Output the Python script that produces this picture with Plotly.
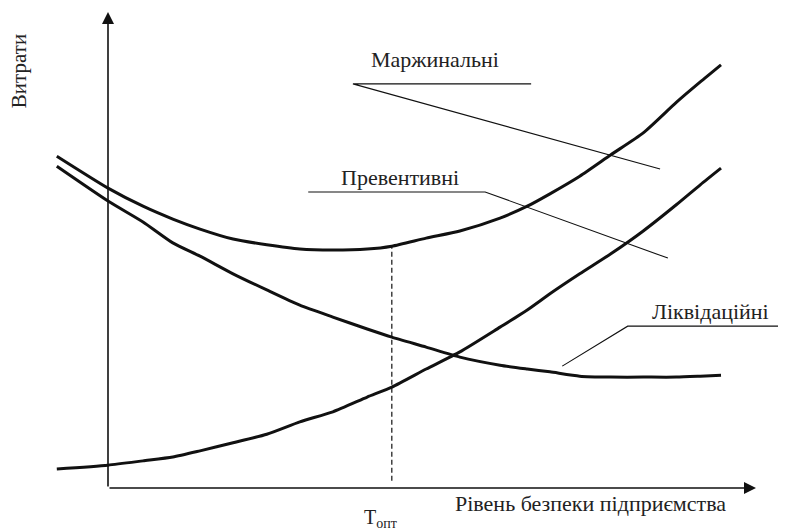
import plotly.graph_objects as go

# Security level (x) sample points, shared by all three curves
level = [-7.9, 0.0, 5.4, 10.0, 14.2, 19.3, 24.5, 29.6, 34.7, 40.0, 43.8, 49.1,
         54.3, 60.5, 64.7, 68.2, 72.8, 77.6, 82.6, 87.7, 91.4, 94.6]

# Total (marginal) costs – U-shaped curve
marginal = [69.7, 63.0, 59.2, 56.5, 54.4, 52.3, 51.1, 50.2, 50.0, 50.2, 50.8, 52.5,
            54.0, 56.7, 59.2, 61.8, 65.5, 70.0, 74.6, 81.0, 85.3, 88.9]
# Liquidation costs – decreasing curve
liquidation = [67.6, 60.3, 55.9, 51.5, 48.7, 45.0, 41.6, 38.4, 35.9, 33.4, 31.7, 29.6,
               27.5, 25.8, 25.0, 24.4, 23.5, 23.3, 23.3, 23.3, 23.5, 23.7]
# Preventive costs – increasing curve
preventive = [4.0, 4.8, 5.7, 6.5, 7.8, 9.5, 11.3, 13.9, 16.0, 19.1, 21.2, 25.0,
              28.6, 33.8, 37.4, 40.8, 45.0, 49.2, 54.0, 59.5, 63.7, 67.2]

t_opt = 43.8
t_opt_cost = 50.8

labels = ["Маржинальні", "Превентивні", "Ліквідаційні"]
x_title = "Рівень безпеки підприємства"
y_title = "Витрати"
t_label = "Т<sub>опт</sub>"

FONT = "Liberation Serif, Times New Roman, DejaVu Serif, serif"
INK = "#111111"

fig = go.Figure()
for ys in (marginal, liquidation, preventive):
    fig.add_trace(go.Scatter(x=level, y=ys, mode="lines",
                             line=dict(color=INK, width=3, shape="spline", smoothing=0.6),
                             hoverinfo="skip", showlegend=False))

# dashed optimum line
fig.add_trace(go.Scatter(x=[t_opt, t_opt], y=[1.5, t_opt_cost], mode="lines",
                         line=dict(color=INK, width=1.2, dash="5px,3px"),
                         hoverinfo="skip", showlegend=False))

# leader lines for labels (horizontal underline + diagonal pointer)
leaders = [
    ([65.3, 37.8, 85.2], [84.9, 84.9, 67.0]),
    ([30.9, 58.2, 86.4], [62.2, 62.2, 48.3]),
    ([104.6, 80.2, 70.1], [34.0, 34.0, 25.6]),
]
for lx, ly in leaders:
    fig.add_trace(go.Scatter(x=lx, y=ly, mode="lines",
                             line=dict(color=INK, width=1.1),
                             hoverinfo="skip", showlegend=False))

# axes with arrowheads
for tip in ((0, 100), (100, 0)):
    fig.add_annotation(x=tip[0], y=tip[1], ax=0, ay=0, axref="x", ayref="y",
                       xref="x", yref="y", text="", showarrow=True,
                       arrowhead=2, arrowsize=1.5, arrowwidth=1.6, arrowcolor=INK)

txt = dict(family=FONT, size=22, color="#222222")
fig.add_annotation(x=50.5, y=90.1, text=labels[0], showarrow=False, font=txt)
fig.add_annotation(x=45.0, y=65.2, text=labels[1], showarrow=False, font=txt)
fig.add_annotation(x=93.0, y=37.1, text=labels[2], showarrow=False, font=txt)
fig.add_annotation(x=74.4, y=-3.2, text=x_title, showarrow=False, font=txt)
fig.add_annotation(x=-13.7, y=87.6, text=y_title, showarrow=False,
                   font=dict(family=FONT, size=21, color="#222222"), textangle=-90)
fig.add_annotation(x=39.2, y=-6.5, text=t_label, showarrow=False,
                   font=dict(family=FONT, size=20, color="#222222"), xanchor="left")

# the page body has an 8px margin; the figure is shrunk by that amount so the
# drawing lands where the reference has it
fig.update_layout(
    width=778, height=523,
    margin=dict(l=0, r=0, t=0, b=0),
    paper_bgcolor="white", plot_bgcolor="white",
    xaxis=dict(range=[-15.432, 104.63], visible=False, fixedrange=True),
    yaxis=dict(range=[-9.034, 100.84], visible=False, fixedrange=True),
)

fig.write_html("out.html")
